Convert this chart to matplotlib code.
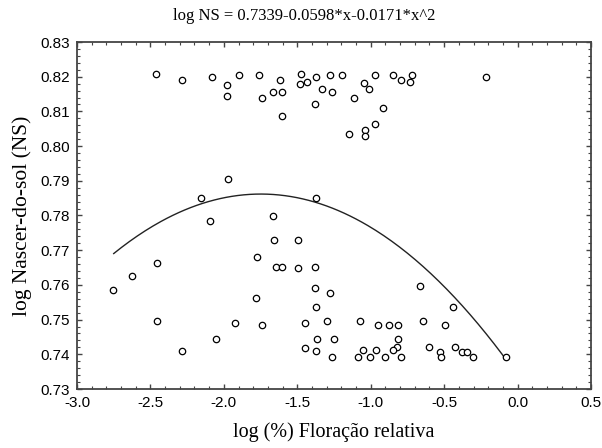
import matplotlib
matplotlib.use("Agg")
import matplotlib.pyplot as plt
import numpy as np
from matplotlib.ticker import MultipleLocator

# log (%) relative flowering vs log sunrise (NS)
x_vals = [
    -2.462, -2.283, -2.079, -1.981, -1.981, -1.897, -1.759, -1.618, -1.743, -1.668,
    -1.602, -1.602, -1.473, -1.482, -1.436, -1.373, -1.382, -1.330, -1.276, -1.266,
    -1.194, -1.046, -1.012, -0.971, -1.112, -0.915, -0.971, -1.151, -1.040, -1.040,
    -0.849, -0.792, -0.733, -0.717, -0.218,
    -1.970, -2.158, -1.373, -2.095, -1.668, -1.661, -1.496, -2.457, -1.775, -1.645,
    -1.602, -1.496, -1.382, -2.628, -2.753, -1.382, -1.276, -1.781, -1.373, -2.457,
    -1.924, -1.743, -1.446, -1.300, -2.054, -1.366, -1.251, -2.283, -1.446, -1.373,
    -1.266,
    -1.071, -0.947, -0.874, -0.815, -0.815, -0.824, -0.851, -0.792, -0.905, -0.962,
    -1.005, -1.053, -1.087, -0.663, -0.643, -0.495, -0.438, -0.602, -0.529, -0.522,
    -0.429, -0.381, -0.347, -0.306, -0.078,
]
y_vals = [
    0.8207, 0.8190, 0.8200, 0.8175, 0.8144, 0.8204, 0.8204, 0.8190, 0.8138, 0.8155,
    0.8155, 0.8086, 0.8207, 0.8179, 0.8186, 0.8200, 0.8120, 0.8165, 0.8204, 0.8155,
    0.8204, 0.8183, 0.8165, 0.8204, 0.8138, 0.8110, 0.8065, 0.8034, 0.8047, 0.8030,
    0.8204, 0.8190, 0.8186, 0.8204, 0.8200,
    0.7905, 0.7850, 0.7850, 0.7784, 0.7798, 0.7729, 0.7729, 0.7662, 0.7680, 0.7652,
    0.7652, 0.7649, 0.7652, 0.7625, 0.7586, 0.7590, 0.7576, 0.7562, 0.7537, 0.7496,
    0.7489, 0.7485, 0.7489, 0.7496, 0.7444, 0.7444, 0.7444, 0.7410, 0.7419, 0.7410,
    0.7392,
    0.7496, 0.7485, 0.7485, 0.7485, 0.7444, 0.7420, 0.7411, 0.7392, 0.7392, 0.7411,
    0.7392, 0.7411, 0.7392, 0.7596, 0.7496, 0.7485, 0.7537, 0.7420, 0.7407, 0.7392,
    0.7420, 0.7407, 0.7407, 0.7392, 0.7392,
]

# fitted quadratic from the title
coef_a, coef_b, coef_c = 0.7339, -0.0598, -0.0171
fit_range = (-2.75, -0.08)

fig = plt.figure(figsize=(6.02, 4.48), dpi=100)
ax = fig.add_axes([77 / 602, 1 - 389 / 448, 514 / 602, 347 / 448])

xf = np.linspace(fit_range[0], fit_range[1], 200)
ax.plot(xf, coef_a + coef_b * xf + coef_c * xf ** 2, color="#222222", lw=1.0)
ax.plot(x_vals, y_vals, linestyle="none", marker="o", ms=4.6,
        mfc="white", mec="black", mew=0.9)

ax.set_xlim(-3.0, 0.5)
ax.set_ylim(0.73, 0.83)
ax.xaxis.set_major_locator(MultipleLocator(0.5))
ax.xaxis.set_minor_locator(MultipleLocator(0.1))
ax.yaxis.set_major_locator(MultipleLocator(0.01))
ax.yaxis.set_minor_locator(MultipleLocator(0.002))
ax.set_xticklabels([f"{v:.1f}" for v in ax.get_xticks()])
ax.set_yticklabels([f"{v:.2f}" for v in ax.get_yticks()])

for s in ax.spines.values():
    s.set_color("#444444")
    s.set_linewidth(1.3)
ax.tick_params(which="both", direction="in", top=True, right=True, color="#444444")
ax.tick_params(which="major", length=3.5, width=1.0, pad=5, labelsize=11)
ax.tick_params(which="minor", length=2, width=0.8)
for lbl in ax.get_xticklabels() + ax.get_yticklabels():
    lbl.set_fontfamily("Liberation Sans")

ax.set_xlabel("log (%) Floração relativa", fontfamily="Liberation Serif",
              fontsize=14.5, labelpad=9)
ax.set_ylabel("log Nascer-do-sol (NS)", fontfamily="Liberation Serif",
              fontsize=15.5, labelpad=6)
fig.text(0.505, 0.965, "log NS = 0.7339-0.0598*x-0.0171*x^2", ha="center", va="center",
         fontfamily="Liberation Serif", fontsize=12)

fig.savefig("out.png", dpi=100)
